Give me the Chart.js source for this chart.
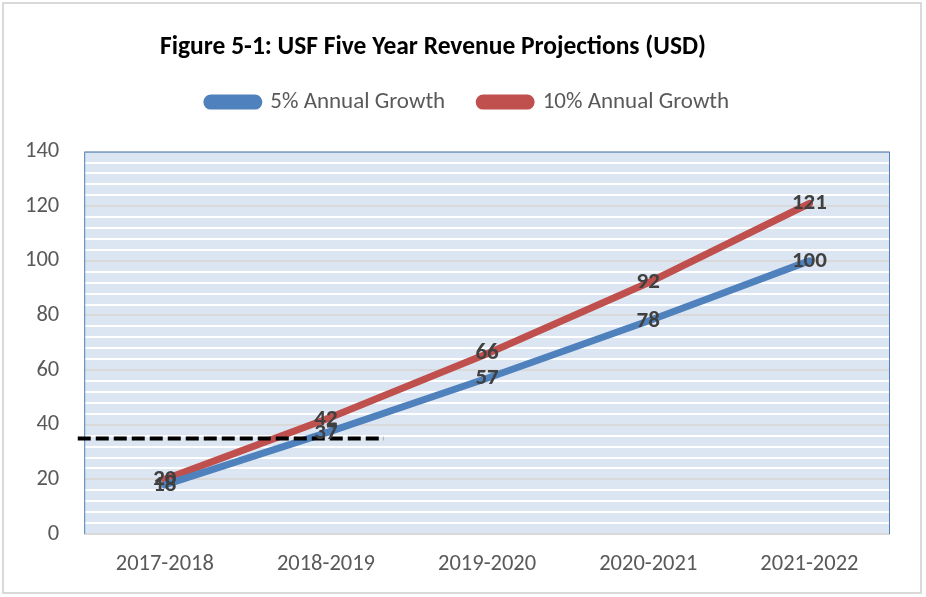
<!DOCTYPE html>
<html>
<head>
<meta charset="utf-8">
<script src="https://cdn.jsdelivr.net/npm/chart.js@4"></script>
<style>
html,body{margin:0;padding:0;background:#fff;}
#wrap{width:926px;height:597px;position:relative;}
</style>
</head>
<body>
<div id="wrap"><canvas id="c" width="926" height="597"></canvas></div>
<script>
const categories = ['2017-2018','2018-2019','2019-2020','2020-2021','2021-2022'];
const growth5 = [18, 37, 57, 78, 100];
const growth10 = [20, 42, 66, 92, 121];
const seriesNames = ['5% Annual Growth','10% Annual Growth'];
const refLineValue = 35;
const refLineSpan = [-0.54, 1.36];
const yMin = 0, yMax = 140, yMajor = 20, yMinor = 4;
const titleText = 'Figure 5-1: USF Five Year Revenue Projections (USD)';

const FONT = "'Carlito','Liberation Sans Narrow','Open Sans',sans-serif";

const bgPlugin = {
  id: 'bg',
  beforeDraw(chart) {
    const {ctx, chartArea: a} = chart;
    ctx.save();
    ctx.fillStyle = '#dce6f2';
    ctx.fillRect(a.left, a.top, a.right - a.left, a.bottom - a.top);
    ctx.restore();
  },
  afterDraw(chart) {
    const {ctx, width, height} = chart;
    ctx.save();
    ctx.strokeStyle = '#d9d9d9';
    ctx.lineWidth = 2;
    ctx.strokeRect(3, 3, width - 8, height - 7);
    ctx.restore();
  }
};

const framePlugin = {
  id: 'frame',
  afterDatasetsDraw(chart) {
    const {ctx, chartArea: a, scales} = chart;
    ctx.save();
    ctx.strokeStyle = '#4f81bd';
    ctx.lineWidth = 1;
    ctx.beginPath();
    ctx.moveTo(a.left + 0.5, a.bottom);
    ctx.lineTo(a.left + 0.5, a.top + 0.5);
    ctx.lineTo(a.right - 0.5, a.top + 0.5);
    ctx.lineTo(a.right - 0.5, a.bottom);
    ctx.stroke();
    const y = scales.y.getPixelForValue(refLineValue);
    const x0 = scales.x.getPixelForValue(refLineSpan[0]);
    const x1 = scales.x.getPixelForValue(refLineSpan[1]);
    ctx.strokeStyle = '#000';
    ctx.lineWidth = 4;
    ctx.setLineDash([13, 5]);
    ctx.beginPath();
    ctx.moveTo(x0, y);
    ctx.lineTo(x1, y);
    ctx.stroke();
    ctx.restore();
  }
};

const labelPlugin = {
  id: 'labels',
  afterDraw(chart) {
    const {ctx} = chart;
    ctx.save();
    ctx.font = 'bold 23px ' + FONT;
    ctx.fillStyle = '#404040';
    ctx.textAlign = 'center';
    ctx.textBaseline = 'middle';
    chart.data.datasets.forEach((ds, i) => {
      const meta = chart.getDatasetMeta(i);
      meta.data.forEach((pt, j) => {
        ctx.fillText(String(ds.data[j]), pt.x, pt.y);
      });
    });
    ctx.restore();
  }
};

const blockShift = {
  id: 'blockShift',
  afterLayout(chart) {
    const t = chart.titleBlock;
    if (t) { t.left -= 12; t.right -= 12; t.top -= 22; t.bottom -= 22; }
    const l = chart.legend;
    if (l) { l.left += 23; l.right += 23; l.top -= 28; l.bottom -= 28; }
  }
};

new Chart(document.getElementById('c'), {
  type: 'line',
  data: {
    labels: categories,
    datasets: [
      {label: seriesNames[0], data: growth5, borderColor: '#4f81bd', backgroundColor: '#4f81bd',
       borderWidth: 7, pointRadius: 0, borderCapStyle: 'round', tension: 0},
      {label: seriesNames[1], data: growth10, borderColor: '#c0504d', backgroundColor: '#c0504d',
       borderWidth: 7, pointRadius: 0, borderCapStyle: 'round', tension: 0}
    ]
  },
  options: {
    responsive: false,
    animation: false,
    devicePixelRatio: 1,
    layout: {padding: {left: 0, right: 36, top: 30, bottom: 10}},
    plugins: {
      title: {display: true, text: titleText, color: '#000',
              font: {family: FONT, size: 25.5, weight: 'bold'},
              padding: {top: 24, bottom: 0}},
      legend: {
        labels: {
          color: '#595959', font: {family: FONT, size: 23},
          boxWidth: 52, boxHeight: 8, useBorderRadius: true, borderRadius: 4,
          padding: 34
        }
      },
      tooltip: {enabled: false}
    },
    scales: {
      x: {
        offset: true,
        grid: {display: false},
        border: {display: false},
        ticks: {color: '#595959', font: {family: FONT, size: 22.5}, padding: 9}
      },
      y: {
        min: yMin, max: yMax,
        border: {display: false},
        grid: {
          color: c => (c.tick.value % yMajor === 0 ? '#d9d9d9' : '#ffffff'),
          lineWidth: 2,
          drawTicks: false
        },
        ticks: {
          stepSize: yMinor,
          autoSkip: false,
          color: '#595959', font: {family: FONT, size: 22.5}, padding: 25,
          callback: v => (v % yMajor === 0 ? v : '')
        }
      }
    }
  },
  plugins: [bgPlugin, framePlugin, labelPlugin, blockShift]
});
</script>
</body>
</html>
